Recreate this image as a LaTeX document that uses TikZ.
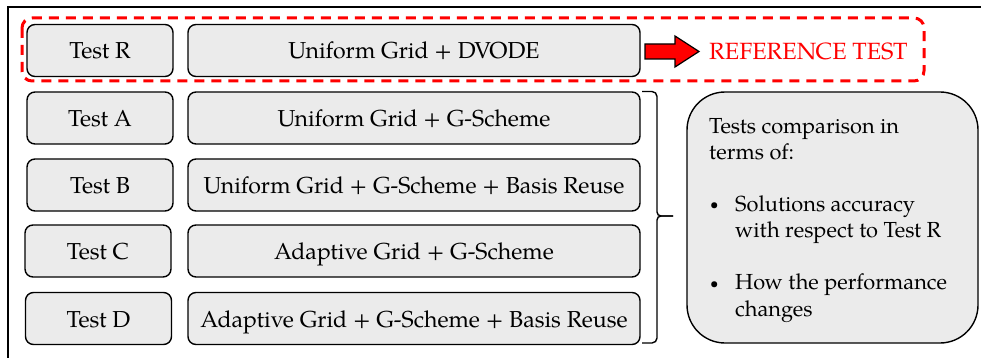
\documentclass[tikz,border=0pt]{standalone}
\usepackage{fontspec}
\setmainfont{TeX Gyre Pagella}
\definecolor{boxgray}{RGB}{235,235,235}
\newcommand{\smallbullet}{\raisebox{1.8pt}{\fontsize{15}{15}\selectfont\textbullet}}
\begin{document}
\begin{tikzpicture}[x=1pt,y=-1pt,
  every node/.style={font=\fontsize{23.1}{27}\selectfont},
  basebox/.style={draw=black, line width=1.4pt, fill=boxgray, rounded corners=8pt,
    minimum height=52pt, inner sep=0pt, text height=17pt, text depth=0pt},
  testbox/.style={basebox, minimum width=146pt},
  descbox/.style={basebox, minimum width=452pt},
  refframe/.style={draw=red, line width=3pt, dash pattern=on 10pt off 7pt, rounded corners=10pt},
  bigarrow/.style={draw=black, fill=red, line width=1.2pt, line join=miter},
  bracestyle/.style={draw=black, line width=1.4pt},
  cmpbox/.style={draw=black, line width=1.4pt, fill=boxgray, rounded corners=38pt,
    minimum width=291pt, minimum height=251pt, inner sep=0pt}
]
\useasboundingbox (0,0) rectangle (981,358);
% outer frame
\draw[line width=1.8pt] (981,7) -- (8,7) -- (8,358);

% reference row
\draw[refframe] (22,18) rectangle (924,81);
\node[testbox] (tR) at (100,50.5) {Test R};
\node[descbox] (dR) at (414,50.5) {Uniform Grid + DVODE};
\draw[bigarrow] (645,44) -- (675,44) -- (675,36) -- (699,51.5) -- (675,67) -- (675,59) -- (645,59) -- cycle;
\node[text=red, anchor=west, inner sep=0pt, font=\fontsize{23.5}{27}\selectfont, text height=17pt, text depth=0pt] (reft) at (709,51) {REFERENCE TEST};

% test rows
\node[testbox] (tA) at (100,118) {Test A};
\node[descbox] (dA) at (414,118) {Uniform Grid + G-Scheme};
\node[testbox] (tB) at (100,185) {Test B};
\node[descbox] (dB) at (414,185) {Uniform Grid + G-Scheme + Basis Reuse};
\node[testbox] (tC) at (98,251) {Test C};
\node[descbox] (dC) at (414,251) {Adaptive Grid + G-Scheme};
\node[testbox] (tD) at (98.5,318.5) {Test D};
\node[descbox] (dD) at (414,318.5) {Adaptive Grid + G-Scheme + Basis Reuse};

% brace
\coordinate (bt) at (642,91.5);
\coordinate (bm) at (673,216);
\coordinate (bb) at (642,343);
\draw[bracestyle] (bt) -- (652,91.5) to[out=0,in=90] (657,96.5) -- (657,212)
  to[out=-90,in=180] (661,216) -- (bm);
\draw[bracestyle] (bm) -- (661,216) to[out=180,in=90] (657,220) -- (657,338)
  to[out=-90,in=0] (652,343) -- (bb);

% comparison box
\node[cmpbox] (cmp) at (832.5,217.5) {};
\node[anchor=base west, inner sep=0pt, font=\fontsize{21.8}{26}\selectfont] (cmptxt) at (709,134) {%
\begin{tabular}[t]{@{}p{26pt}@{}l@{}}
\multicolumn{2}{@{}l@{}}{Tests comparison in}\\
\multicolumn{2}{@{}l@{}}{terms of:}\\[25.5pt]
\hspace{1pt}\smallbullet & Solutions accuracy\\
 & with respect to Test R\\[26.5pt]
\hspace{1pt}\smallbullet & How the performance\\
 & changes
\end{tabular}};
\end{tikzpicture}
\end{document}
